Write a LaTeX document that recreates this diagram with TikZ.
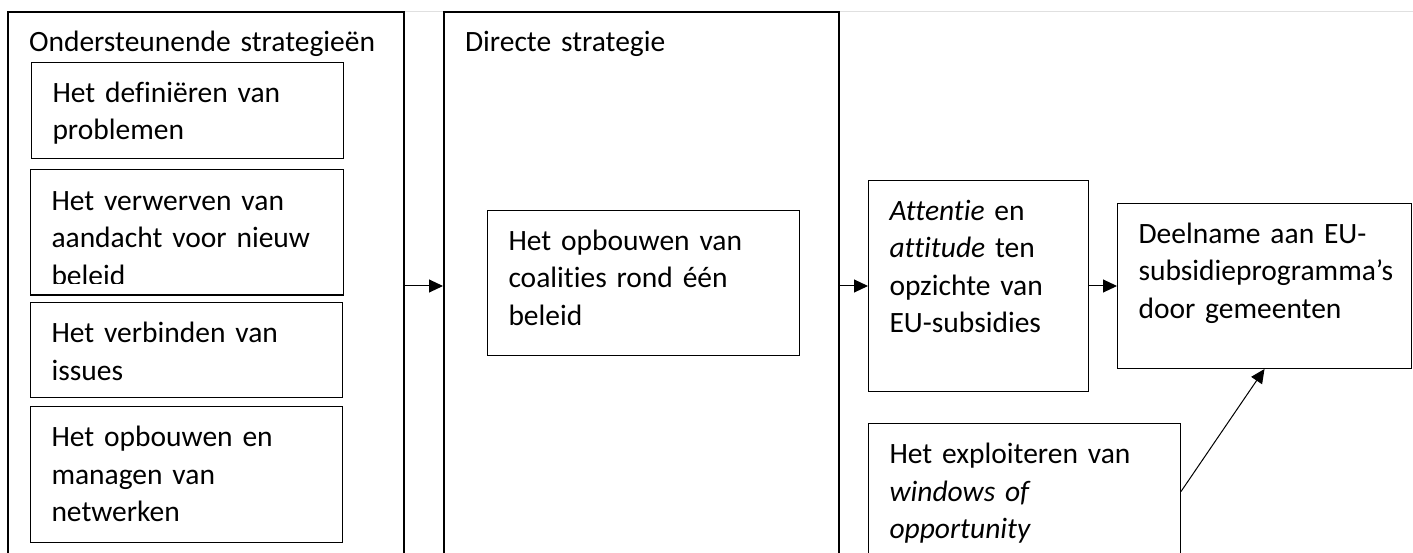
\documentclass[tikz,border=0pt]{standalone}
\usepackage{fontspec}
\setmainfont{Carlito}[Ligatures=NoCommon]
\usetikzlibrary{arrows.meta}

\begin{document}
\begin{tikzpicture}[x=1pt, y=-1pt,
  vak/.style={draw, line width=1pt, anchor=north west, inner xsep=21pt, inner ysep=14pt,
    text height=26pt, align=left, font=\fontsize{29.5}{37.5}\selectfont},
  kader/.style={vak, line width=2pt, text width=354pt, text depth=494pt},
  pijl/.style={line width=1pt, -{Triangle[length=14pt, width=13pt]}}]
  \useasboundingbox (0,0) rectangle (1413,553);
  \draw[black!12, line width=1pt] (403,12) -- (1413,12);
  \node[kader] (ondersteunend) at (7,11) {Ondersteunende strategieën};
  \node[kader, text width=353pt] (direct) at (443,11) {Directe strategie};
  \node[vak, text width=270pt, text depth=42pt] (definieren) at (31,62) {Het definiëren van\\problemen};
  \begin{scope}
    \clip (0,0) rectangle (1413,283.5);
    \node[vak, draw=none, text width=270pt, text depth=70pt] (verwerven) at (30,170) {Het verwerven van\\aandacht voor nieuw\\beleid};
  \end{scope}
  \draw[line width=1pt] (verwerven.north west) rectangle (verwerven.south east);
  \node[vak, text width=270pt, text depth=41pt] (verbinden) at (30,302) {Het verbinden van\\issues};
  \node[vak, text width=270pt, text depth=82pt] (netwerken) at (30,406) {Het opbouwen en\\managen van\\netwerken};
  \node[vak, text width=270pt, text depth=91pt] (coalities) at (487,210) {Het opbouwen van\\coalities rond één\\beleid};
  \node[vak, text width=178pt, text depth=157pt] (attentie) at (868,180) {\textit{Attentie} en\\\textit{attitude} ten\\opzichte van\\EU-subsidies};
  \node[vak, text width=252pt, text depth=111pt] (deelname) at (1117,203) {Deelname aan EU-\\subsidieprogramma’s\\door gemeenten};
  \node[vak, text width=270pt, text depth=82pt] (windows) at (868,423) {Het exploiteren van\\\textit{windows of}\\\textit{opportunity}};
  \draw[pijl] (ondersteunend.east) -- (direct.west);
  \draw[pijl] (direct.east) -- (attentie.west);
  \draw[pijl] (attentie.east) -- (deelname.west);
  \draw[pijl] (windows.east) -- (deelname.south);
\end{tikzpicture}
\end{document}
